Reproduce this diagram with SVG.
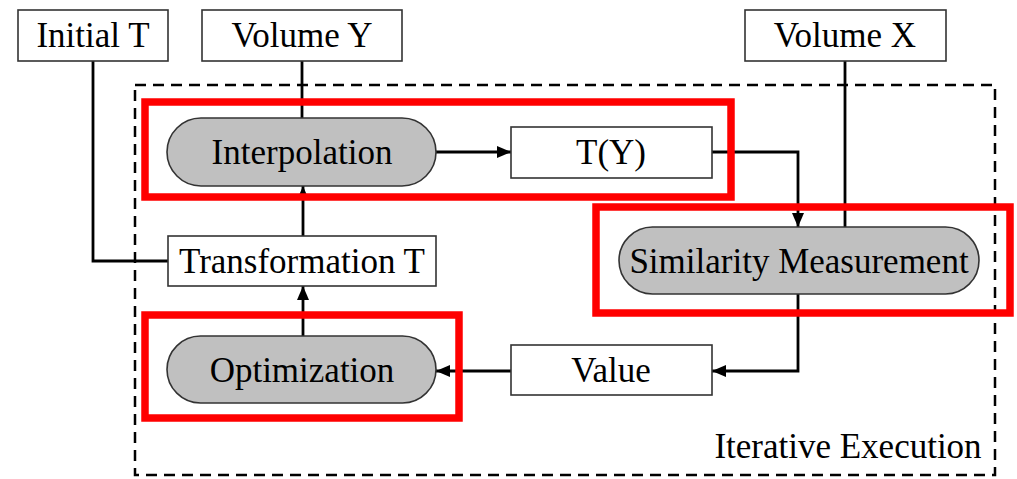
<svg xmlns="http://www.w3.org/2000/svg" width="1017" height="479" viewBox="0 0 1017 479">
<style>
.box{fill:#ffffff;stroke:#333333;stroke-width:1.6}
.pill{fill:#c0c0c0;stroke:#333333;stroke-width:1.6}
.t{font-family:"Liberation Serif","Times New Roman",serif;font-size:35px;fill:#000000;text-anchor:middle}
.c{fill:none;stroke:#000000;stroke-width:2.8}
.hl{fill:none;stroke:#ff0000;stroke-width:7.5}
.dash{fill:none;stroke:#000000;stroke-width:2.5;stroke-dasharray:11 7}
</style>
<defs>
<marker id="ah" markerWidth="14" markerHeight="12" refX="14" refY="6" orient="auto" markerUnits="userSpaceOnUse">
<path d="M0,0 L14,6 L0,12 Z" fill="#000000"/>
</marker>
</defs>
<rect width="1017" height="479" fill="#ffffff"/>
<g id="iterative-execution">
<rect class="dash" x="135" y="85" width="860" height="390"/>
<text class="t" x="848" y="458">Iterative Execution</text>
</g>
<g id="connectors">
<path class="c" d="M93,61 V261 H168"/>
<path class="c" d="M302,61 V118"/>
<path class="c" d="M845,61 V227"/>
<path class="c" d="M436,152 H511" marker-end="url(#ah)"/>
<path class="c" d="M712,152 H798 V227" marker-end="url(#ah)"/>
<path class="c" d="M798,294 V371 H712" marker-end="url(#ah)"/>
<path class="c" d="M511,371 H436" marker-end="url(#ah)"/>
<path class="c" d="M303,336 V286" marker-end="url(#ah)"/>
<path class="c" d="M303,236 V186" marker-end="url(#ah)"/>
</g>
<g id="initial-t">
<rect class="box" x="18" y="10" width="150" height="51"/>
<text class="t" x="93" y="47">Initial T</text>
</g>
<g id="volume-y">
<rect class="box" x="202" y="10" width="200" height="51"/>
<text class="t" x="302" y="47">Volume Y</text>
</g>
<g id="volume-x">
<rect class="box" x="745" y="10" width="201" height="51"/>
<text class="t" x="845" y="47">Volume X</text>
</g>
<g id="interpolation">
<rect class="pill" x="167" y="118" width="269" height="68" rx="34" ry="34"/>
<text class="t" x="302" y="164">Interpolation</text>
</g>
<g id="t-y">
<rect class="box" x="511" y="127" width="201" height="51"/>
<text class="t" x="611" y="164">T(Y)</text>
</g>
<g id="transformation-t">
<rect class="box" x="168" y="236" width="268" height="50"/>
<text class="t" x="302" y="273">Transformation T</text>
</g>
<g id="similarity-measurement">
<rect class="pill" x="619" y="227" width="360" height="67" rx="33.5" ry="33.5"/>
<text class="t" x="799" y="273">Similarity Measurement</text>
</g>
<g id="optimization">
<rect class="pill" x="167" y="336" width="269" height="67" rx="33.5" ry="33.5"/>
<text class="t" x="302" y="382">Optimization</text>
</g>
<g id="value">
<rect class="box" x="511" y="345" width="201" height="50"/>
<text class="t" x="611" y="382">Value</text>
</g>
<g id="highlights">
<rect class="hl" x="145" y="102" width="586" height="95"/>
<rect class="hl" x="596" y="207" width="414" height="106"/>
<rect class="hl" x="145" y="315" width="314" height="103"/>
</g>
</svg>
